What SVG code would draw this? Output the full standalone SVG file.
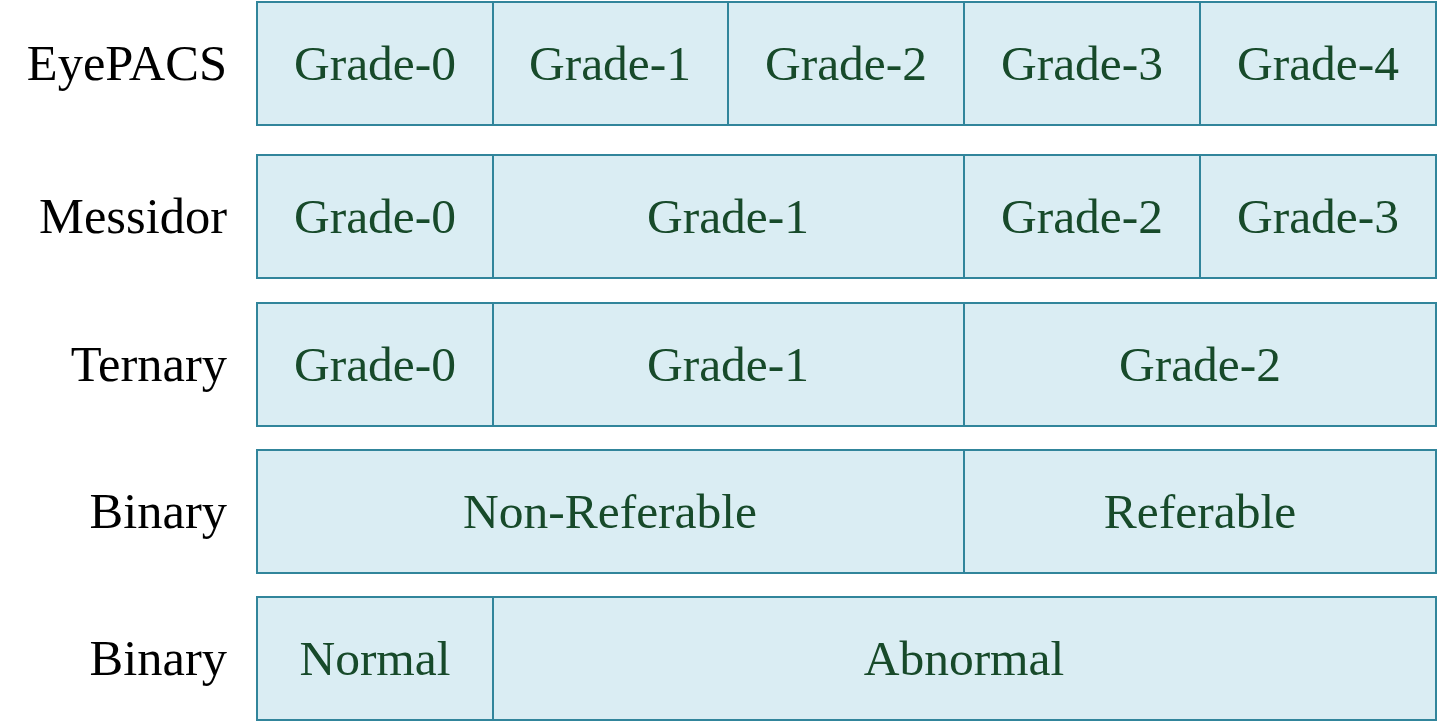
<svg xmlns="http://www.w3.org/2000/svg" width="1439" height="724" viewBox="0 0 1439 724">
<style>
.c{fill:#daedf3;stroke:#31859b;stroke-width:2}
.t{font-family:"Liberation Serif",serif;font-size:49.5px;fill:#174a2a;text-anchor:middle}
.l{font-family:"Liberation Serif",serif;font-size:50.5px;fill:#000;text-anchor:end}
</style>
<rect width="1439" height="724" fill="#fff"/>
<g id="row-eyepacs">
<text class="l" x="227" y="80">EyePACS</text>
<rect class="c" x="257" y="2" width="236" height="123"/>
<rect class="c" x="493" y="2" width="235" height="123"/>
<rect class="c" x="728" y="2" width="236" height="123"/>
<rect class="c" x="964" y="2" width="236" height="123"/>
<rect class="c" x="1200" y="2" width="236" height="123"/>
<text class="t" x="375" y="80">Grade-0</text>
<text class="t" x="610" y="80">Grade-1</text>
<text class="t" x="846" y="80">Grade-2</text>
<text class="t" x="1082" y="80">Grade-3</text>
<text class="t" x="1318" y="80">Grade-4</text>
</g>
<g id="row-messidor">
<text class="l" x="227" y="233">Messidor</text>
<rect class="c" x="257" y="155" width="236" height="123"/>
<rect class="c" x="493" y="155" width="471" height="123"/>
<rect class="c" x="964" y="155" width="236" height="123"/>
<rect class="c" x="1200" y="155" width="236" height="123"/>
<text class="t" x="375" y="233">Grade-0</text>
<text class="t" x="728" y="233">Grade-1</text>
<text class="t" x="1082" y="233">Grade-2</text>
<text class="t" x="1318" y="233">Grade-3</text>
</g>
<g id="row-ternary">
<text class="l" x="227" y="381">Ternary</text>
<rect class="c" x="257" y="303" width="236" height="123"/>
<rect class="c" x="493" y="303" width="471" height="123"/>
<rect class="c" x="964" y="303" width="472" height="123"/>
<text class="t" x="375" y="381">Grade-0</text>
<text class="t" x="728" y="381">Grade-1</text>
<text class="t" x="1200" y="381">Grade-2</text>
</g>
<g id="row-binary-ref">
<text class="l" x="227" y="528">Binary</text>
<rect class="c" x="257" y="450" width="707" height="123"/>
<rect class="c" x="964" y="450" width="472" height="123"/>
<text class="t" x="610" y="528">Non-Referable</text>
<text class="t" x="1200" y="528">Referable</text>
</g>
<g id="row-binary-normal">
<text class="l" x="227" y="675">Binary</text>
<rect class="c" x="257" y="597" width="236" height="123"/>
<rect class="c" x="493" y="597" width="943" height="123"/>
<text class="t" x="375" y="675">Normal</text>
<text class="t" x="964" y="675">Abnormal</text>
</g>
<g id="connectors"></g>
</svg>
